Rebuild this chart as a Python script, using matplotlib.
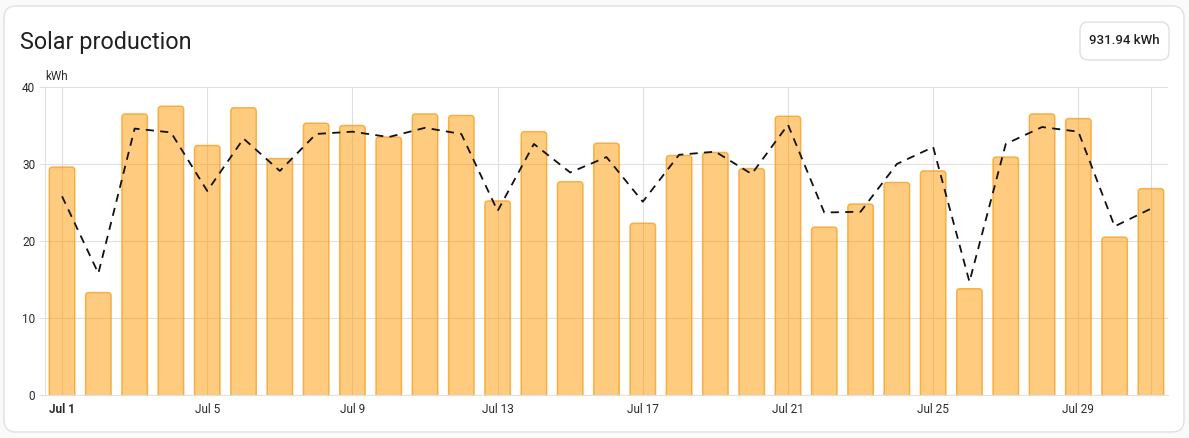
import matplotlib
matplotlib.use("Agg")
import matplotlib.pyplot as plt
from matplotlib.patches import FancyBboxPatch
import numpy as np

plt.rcParams['font.family'] = ['Roboto', 'DejaVu Sans']

# daily solar production (kWh), Jul 1 .. Jul 31
days = list(range(1, 32))
production = [29.6, 13.3, 36.5, 37.5, 32.4, 37.3, 30.7, 35.3, 35.0, 33.5,
              36.5, 36.3, 25.2, 34.2, 27.7, 32.7, 22.3, 31.1, 31.5, 29.4,
              36.2, 21.8, 24.8, 27.6, 29.1, 13.8, 30.9, 36.5, 35.9, 20.5,
              26.8]
# forecast (dashed line)
forecast = [25.8, 15.8, 34.6, 34.1, 26.5, 33.3, 29.1, 33.9, 34.2, 33.5,
            34.7, 33.9, 23.9, 32.6, 28.9, 30.9, 25.1, 31.2, 31.6, 28.7,
            35.1, 23.7, 23.8, 30.0, 32.2, 14.7, 32.6, 34.8, 34.2, 21.9,
            24.2]
tick_days = [1, 5, 9, 13, 17, 21, 25, 29]
total_label = "931.94 kWh"

W, H = 1189, 438
fig = plt.figure(figsize=(W / 100, H / 100), dpi=100)
fig.patch.set_facecolor('#fafafa')

# card background
card = FancyBboxPatch((4 / W, 6 / H), 1180 / W, 426 / H,
                      boxstyle="round,pad=0,rounding_size=0.01",
                      mutation_aspect=W / H,
                      transform=fig.transFigure, facecolor='white',
                      edgecolor='#e0e0e0', linewidth=1, zorder=-10)
fig.patches.append(card)

fig.text(20 / W, 1 - 42 / H, "Solar production", fontsize=16.8,
         color='#212121', va='center', ha='left')

# total badge
badge = FancyBboxPatch((1080 / W, 1 - 60 / H), 89 / W, 38 / H,
                       boxstyle="round,pad=0,rounding_size=0.007",
                       mutation_aspect=W / H,
                       transform=fig.transFigure, facecolor='white',
                       edgecolor='#e0e0e0', linewidth=1, zorder=-5)
fig.patches.append(badge)
fig.text(1124.5 / W, 1 - 41 / H, total_label, fontsize=9.5, color='#212121',
         ha='center', va='center', fontweight='medium')

ax = fig.add_axes([45 / W, 43 / H, 1123 / W, 308 / H])
ax.set_facecolor('none')

x = np.arange(len(days))
bars = ax.bar(x, production, width=0.7, alpha=0)
for b, v in zip(bars, production):
    p = FancyBboxPatch((b.get_x(), -2), b.get_width(), v + 2,
                       boxstyle="round,pad=0,rounding_size=0.09",
                       mutation_aspect=36.3 / 7.7,
                       facecolor=(1.0, 0.596, 0.0, 0.5),
                       edgecolor=(0.96, 0.62, 0.12, 0.75), linewidth=1.1,
                       zorder=2)
    ax.add_patch(p)

ax.plot(x, forecast, color='#111111', linestyle=(0, (4.5, 3.5)),
        linewidth=1.3, zorder=3)

ax.set_xlim(-0.47, 30.47)
ax.set_ylim(0, 40)
ax.set_yticks([0, 10, 20, 30, 40])
ax.set_xticks([d - 1 for d in tick_days] + [30])
ax.set_xticklabels(["Jul %d" % d for d in tick_days] + [""])
for lbl in ax.get_xticklabels()[:1]:
    lbl.set_fontweight('bold')

ax.grid(True, color='#e0e0e0', linewidth=0.8, zorder=0)
ax.set_axisbelow(True)
for s in ['top', 'right']:
    ax.spines[s].set_visible(False)
for s in ['left', 'bottom']:
    ax.spines[s].set_color('#e0e0e0')
    ax.spines[s].set_linewidth(0.8)
ax.tick_params(axis='y', length=4, color='#e0e0e0', labelsize=8.5,
               labelcolor='#2a2a2a', pad=3)
ax.tick_params(axis='x', length=0, labelsize=8.5, labelcolor='#2a2a2a', pad=6)

fig.text(45 / W, 1 - 77 / H, "kWh", fontsize=8.5, color='#2a2a2a',
         ha='left', va='center')

fig.savefig("out.png", dpi=100, facecolor=fig.get_facecolor())
